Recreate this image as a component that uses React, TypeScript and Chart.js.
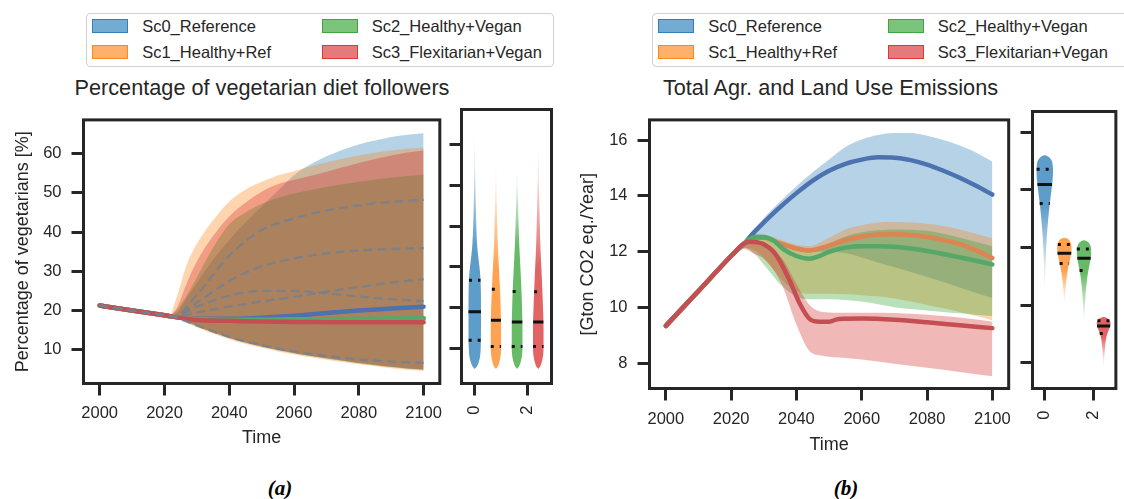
import React, { useEffect, useRef } from "react";
import { Chart, registerables } from "chart.js";

Chart.register(...registerables);

// ---------------- shared ----------------
const scenarioNames = ["Sc0_Reference", "Sc1_Healthy+Ref", "Sc2_Healthy+Vegan", "Sc3_Flexitarian+Vegan"];
const yearTicks = [2000, 2020, 2040, 2060, 2080, 2100];
const violinTicks = [0, 2];
const violinCenters = [0, 0.8, 1.6, 2.4];

// ---------------- (a) share of vegetarian diet followers [%] ----------------
const vegTicks = [10, 20, 30, 40, 50, 60];

const vegYears = [2000, 2010, 2020, 2023, 2030, 2040, 2050, 2060, 2070, 2080, 2090, 2100];
const vegMeanSc0 = [21.3, 20.0, 18.8, 18.4, 17.9, 17.9, 18.2, 18.7, 19.4, 20.0, 20.5, 21.0];
const vegMeanSc1 = [21.3, 20.0, 18.8, 18.4, 17.8, 17.6, 17.6, 17.7, 17.8, 17.8, 17.9, 17.9];
const vegMeanSc2 = [21.3, 20.0, 18.8, 18.4, 17.7, 17.6, 17.6, 17.7, 17.8, 17.9, 18.0, 18.1];
const vegMeanSc3 = [21.3, 20.0, 18.8, 18.4, 17.6, 17.4, 17.2, 17.1, 17.05, 17.0, 17.0, 17.0];

// individual runs (dashed)
const vegRun1 = [21.3, 20.0, 18.8, 18.5, 24.0, 34.0, 40.5, 43.5, 45.5, 46.8, 47.7, 48.2];
const vegRun2 = [21.3, 20.0, 18.8, 18.5, 22.0, 27.5, 31.3, 33.3, 34.6, 35.3, 35.7, 35.9];
const vegRun3 = [21.3, 20.0, 18.8, 18.4, 19.5, 21.0, 22.3, 23.5, 24.8, 26.0, 27.1, 28.0];
const vegRun4 = [21.3, 20.0, 18.8, 18.5, 21.0, 23.8, 25.0, 25.0, 24.4, 23.6, 22.9, 22.4];
const vegRun5 = [21.3, 20.0, 18.8, 18.3, 16.2, 13.3, 11.2, 9.6, 8.4, 7.6, 7.0, 6.7];

const vegBandYears = [2022, 2024, 2027, 2030, 2035, 2040, 2045, 2050, 2055, 2060, 2065, 2070, 2075, 2080, 2085, 2090, 2095, 2100];
const vegHighSc0 = [18.8, 19.6, 23.5, 27.0, 33.0, 38.0, 42.5, 46.5, 50.5, 54.5, 57.2, 59.3, 61.0, 62.3, 63.3, 64.2, 64.8, 65.2];
const vegHighSc1 = [19.0, 24.0, 32.0, 37.0, 43.0, 47.8, 50.8, 52.8, 54.4, 55.5, 56.7, 57.8, 58.7, 59.5, 60.2, 60.8, 61.2, 61.5];
const vegHighSc2 = [18.8, 20.3, 24.0, 28.5, 36.0, 42.0, 45.0, 47.2, 48.7, 49.8, 50.7, 51.5, 52.2, 52.8, 53.4, 53.9, 54.3, 54.6];
const vegHighSc3 = [18.8, 21.0, 27.2, 32.5, 39.0, 44.0, 47.5, 50.3, 52.2, 53.3, 54.3, 55.4, 56.5, 57.6, 58.6, 59.5, 60.3, 60.8];
const vegLowSc0 = [18.8, 18.2, 17.1, 16.0, 14.4, 13.0, 11.8, 10.8, 9.9, 9.1, 8.4, 7.8, 7.2, 6.6, 6.1, 5.6, 5.2, 4.9];
const vegLowSc1 = [18.8, 18.0, 16.9, 15.7, 14.1, 12.7, 11.5, 10.5, 9.6, 8.8, 8.1, 7.5, 6.9, 6.3, 5.8, 5.3, 4.9, 4.6];
const vegLowSc2 = [18.8, 18.2, 17.1, 16.0, 14.4, 13.0, 11.8, 10.8, 9.9, 9.1, 8.4, 7.8, 7.2, 6.6, 6.1, 5.6, 5.2, 4.9];
const vegLowSc3 = [18.8, 18.2, 17.2, 16.1, 14.5, 13.1, 11.9, 10.9, 10.0, 9.2, 8.5, 7.9, 7.3, 6.7, 6.2, 5.7, 5.3, 5.0];

// distribution in 2100: profile levels and half widths (x units), quartiles
const vegViolinLevelsSc0 = [65.2, 60, 55, 50, 45, 40, 35, 32, 29, 26, 20, 15, 10, 8, 6.5, 5.5, 5.0];
const vegViolinHalfSc0 = [0, 0.008, 0.015, 0.025, 0.04, 0.06, 0.094, 0.142, 0.195, 0.225, 0.236, 0.236, 0.225, 0.2, 0.142, 0.075, 0];
const vegViolinLevelsSc1 = [57, 50, 45, 40, 35, 30, 25, 20, 15, 10, 8, 6.5, 5.5, 5.0];
const vegViolinHalfSc1 = [0, 0.019, 0.034, 0.052, 0.075, 0.112, 0.15, 0.18, 0.195, 0.195, 0.172, 0.124, 0.067, 0];
const vegViolinLevelsSc2 = [55.4, 50, 45, 40, 35, 30, 25, 20, 15, 10, 8, 6.5, 5.5, 5.0];
const vegViolinHalfSc2 = [0, 0.019, 0.037, 0.06, 0.086, 0.124, 0.161, 0.187, 0.202, 0.202, 0.18, 0.127, 0.067, 0];
const vegViolinLevelsSc3 = [61.9, 55, 50, 45, 40, 35, 30, 25, 20, 15, 10, 8, 6.5, 5.5, 5.0];
const vegViolinHalfSc3 = [0, 0.015, 0.026, 0.041, 0.06, 0.082, 0.116, 0.15, 0.18, 0.199, 0.199, 0.176, 0.124, 0.067, 0];
const vegQuartilesSc0 = [12.0, 19.0, 26.7];
const vegQuartilesSc1 = [10.5, 16.9, 24.5];
const vegQuartilesSc2 = [10.5, 16.5, 24.0];
const vegQuartilesSc3 = [10.5, 16.5, 23.9];

// ---------------- (b) total agricultural and land-use emissions [Gt CO2 eq./yr] ----------------
const emiTicks = [8, 10, 12, 14, 16];

const emiYearsSc0 = [2000, 2010, 2020, 2024, 2027, 2030, 2035, 2040, 2045, 2050, 2055, 2060, 2065, 2070, 2075, 2080, 2085, 2090, 2095, 2100];
const emiMeanSc0 = [9.35, 10.6, 11.85, 12.3, 12.7, 13.05, 13.6, 14.1, 14.55, 14.9, 15.15, 15.3, 15.38, 15.37, 15.28, 15.12, 14.9, 14.65, 14.36, 14.05];
const emiYearsSc1 = [2000, 2010, 2020, 2024, 2027, 2030, 2035, 2040, 2044, 2048, 2052, 2056, 2060, 2065, 2070, 2075, 2080, 2085, 2090, 2095, 2100];
const emiMeanSc1 = [9.35, 10.6, 11.85, 12.3, 12.5, 12.5, 12.3, 12.12, 12.05, 12.15, 12.3, 12.45, 12.55, 12.62, 12.63, 12.6, 12.53, 12.42, 12.28, 12.05, 11.78];
const emiYearsSc2 = [2000, 2010, 2020, 2024, 2027, 2030, 2033, 2036, 2040, 2044, 2047, 2050, 2055, 2060, 2065, 2070, 2075, 2080, 2085, 2090, 2095, 2100];
const emiMeanSc2 = [9.35, 10.6, 11.85, 12.3, 12.52, 12.52, 12.4, 12.1, 11.85, 11.75, 11.85, 12.0, 12.15, 12.2, 12.2, 12.18, 12.12, 12.03, 11.92, 11.8, 11.68, 11.55];
const emiYearsSc3 = [2000, 2010, 2020, 2024, 2026, 2028, 2030, 2033, 2035, 2038, 2041, 2044, 2047, 2050, 2053, 2060, 2070, 2080, 2090, 2100];
const emiMeanSc3 = [9.35, 10.6, 11.85, 12.3, 12.36, 12.34, 12.27, 12.0, 11.65, 10.95, 10.15, 9.6, 9.5, 9.5, 9.6, 9.61, 9.57, 9.48, 9.37, 9.27];

const emiBandYearsSc0 = [2024, 2030, 2035, 2040, 2045, 2050, 2055, 2060, 2065, 2070, 2075, 2080, 2085, 2090, 2095, 2100];
const emiHighSc0 = [12.35, 13.2, 13.8, 14.35, 14.85, 15.3, 15.75, 16.02, 16.18, 16.25, 16.25, 16.15, 16.0, 15.8, 15.55, 15.22];
const emiLowSc0 = [12.25, 12.55, 12.35, 12.1, 12.0, 12.0, 11.95, 11.8, 11.62, 11.45, 11.28, 11.1, 10.92, 10.72, 10.53, 10.35];
const emiBandYearsSc1 = [2022, 2024, 2028, 2032, 2036, 2040, 2044, 2050, 2055, 2060, 2065, 2070, 2075, 2080, 2085, 2090, 2095, 2100];
const emiHighSc1 = [12.1, 12.32, 12.6, 12.55, 12.4, 12.25, 12.2, 12.5, 12.8, 12.95, 13.05, 13.07, 13.05, 13.0, 12.92, 12.8, 12.65, 12.48];
const emiLowSc1 = [12.0, 12.15, 12.0, 11.5, 10.95, 10.6, 10.5, 10.5, 10.48, 10.45, 10.4, 10.33, 10.22, 10.1, 9.98, 9.85, 9.7, 9.55];
const emiBandYearsSc2 = [2022, 2024, 2027, 2031, 2035, 2040, 2044, 2050, 2055, 2060, 2065, 2070, 2075, 2080, 2085, 2090, 2095, 2100];
const emiHighSc2 = [12.1, 12.32, 12.65, 12.6, 12.35, 12.1, 12.0, 12.3, 12.55, 12.7, 12.77, 12.8, 12.79, 12.75, 12.65, 12.5, 12.35, 12.2];
const emiLowSc2 = [12.0, 12.15, 11.95, 11.4, 10.85, 10.4, 10.3, 10.3, 10.28, 10.22, 10.12, 10.02, 9.95, 9.9, 9.85, 9.8, 9.75, 9.7];
const emiBandYearsSc3 = [2022, 2024, 2027, 2030, 2033, 2036, 2040, 2044, 2048, 2055, 2065, 2075, 2085, 2095, 2100];
const emiHighSc3 = [12.1, 12.3, 12.38, 12.3, 12.05, 11.7, 10.85, 10.1, 9.85, 9.82, 9.82, 9.78, 9.7, 9.58, 9.5];
const emiLowSc3 = [12.0, 12.1, 11.93, 11.75, 11.35, 10.7, 9.4, 8.45, 8.28, 8.2, 8.08, 7.92, 7.78, 7.62, 7.55];

const emiViolinLevelsSc0 = [15.21, 15.15, 15.05, 14.9, 14.6, 14.2, 13.8, 13.4, 13.0, 12.5, 12.0, 11.5, 11.0, 10.4];
const emiViolinHalfSc0 = [0, 0.15, 0.262, 0.319, 0.337, 0.3, 0.244, 0.187, 0.142, 0.094, 0.06, 0.037, 0.022, 0];
const emiViolinLevelsSc1 = [12.35, 12.3, 12.2, 12.0, 11.8, 11.5, 11.2, 10.9, 10.6, 10.3, 9.95];
const emiViolinHalfSc1 = [0, 0.15, 0.244, 0.292, 0.281, 0.206, 0.135, 0.086, 0.049, 0.026, 0];
const emiViolinLevelsSc2 = [12.26, 12.2, 12.1, 11.95, 11.7, 11.4, 11.1, 10.8, 10.5, 10.1, 9.7, 9.25];
const emiViolinHalfSc2 = [0, 0.15, 0.244, 0.292, 0.285, 0.225, 0.157, 0.112, 0.075, 0.045, 0.022, 0];
const emiViolinLevelsSc3 = [9.6, 9.55, 9.48, 9.38, 9.25, 9.1, 8.9, 8.6, 8.3, 8.0, 7.85];
const emiViolinHalfSc3 = [0, 0.15, 0.244, 0.281, 0.262, 0.187, 0.112, 0.067, 0.037, 0.015, 0];
const emiQuartilesSc0 = [13.53, 14.19, 14.72];
const emiQuartilesSc1 = [11.45, 11.8, 12.11];
const emiQuartilesSc2 = [11.2, 11.63, 11.95];
const emiQuartilesSc3 = [9.02, 9.28, 9.46];

// ---------------- styling ----------------
const INK = "#262626";
const SANS = "'Liberation Sans', Arial, Helvetica, sans-serif";
const SERIF = "'Liberation Serif', 'Times New Roman', serif";
const bandRGB = ["31,119,180", "255,127,14", "44,160,44", "214,39,40"];
const lineColors = ["#4c72b0", "#dd8452", "#55a868", "#c44e52"];
const BAND_ALPHA = 0.33;
const VIOLIN_ALPHA = 0.72;
const TICK_FONT = { size: 16.5, family: SANS };
const LABEL_FONT = { size: 18, family: SANS };

Chart.defaults.font.family = SANS;

const pts = (xs: number[], ys: number[]) => xs.map((x, i) => ({ x, y: ys[i] }));

// box around the plotting area (drawn over the data, like axis spines)
const framePlugin = {
  id: "frame",
  afterDatasetsDraw(chart: any) {
    const { ctx, chartArea: a } = chart;
    ctx.save();
    ctx.strokeStyle = INK;
    ctx.lineWidth = 3;
    ctx.strokeRect(a.left, a.top, a.right - a.left, a.bottom - a.top);
    ctx.restore();
  },
};

const tickGrid = {
  display: true,
  drawOnChartArea: false,
  drawTicks: true,
  tickLength: 12,
  tickWidth: 3,
  lineWidth: 3,
  color: INK,
  tickColor: INK,
};

function baseOptions(padTop: number, padRight: number, extra: any = {}) {
  return {
    responsive: false,
    animation: false,
    devicePixelRatio: 1,
    events: [],
    layout: { padding: { top: padTop, right: padRight, left: 0, bottom: 0 } },
    plugins: { legend: { display: false }, tooltip: { enabled: false }, title: { display: false } },
    elements: { point: { radius: 0 } },
    ...extra,
  };
}

interface Band { years: number[]; high: number[]; low: number[] }
interface Series { years: number[]; values: number[] }

function timeSeriesConfig(o: {
  bands: Band[]; means: Series[]; runs: Series[];
  yMin: number; yMax: number; yTicks: number[]; yTitle: string;
  yAxisW: number; xAxisH: number; padTop: number; padRight: number;
  yTitlePad: number; xTitlePad: number; xTickPad: number; yTickPad: number;
}) {
  const datasets: any[] = [];
  o.bands.forEach((b, k) => {
    const lowIndex = datasets.length;
    const order = 50 - k * 10;
    datasets.push({ data: pts(b.years, b.low), borderWidth: 0, pointRadius: 0, fill: false, order, cubicInterpolationMode: "monotone" });
    datasets.push({
      data: pts(b.years, b.high), borderWidth: 0, pointRadius: 0, fill: lowIndex, order,
      backgroundColor: `rgba(${bandRGB[k]},${BAND_ALPHA})`, cubicInterpolationMode: "monotone",
    });
  });
  o.means.forEach((m, k) => {
    datasets.push({
      data: pts(m.years, m.values), borderColor: lineColors[k], borderWidth: 4.5, pointRadius: 0, fill: false,
      order: 10 - k, cubicInterpolationMode: "monotone", borderCapStyle: "round", borderJoinStyle: "round",
    });
  });
  o.runs.forEach((r) => {
    datasets.push({
      data: pts(r.years, r.values), borderColor: "rgba(118,128,142,0.85)", borderWidth: 2.3, borderDash: [9, 5],
      pointRadius: 0, fill: false, order: 0, cubicInterpolationMode: "monotone",
    });
  });

  return {
    type: "line",
    data: { datasets },
    options: {
      ...baseOptions(o.padTop, o.padRight),
      scales: {
        x: {
          type: "linear", min: 1995, max: 2105,
          afterBuildTicks: (s: any) => { s.ticks = yearTicks.map((v) => ({ value: v })); },
          afterFit: (s: any) => { s.height = o.xAxisH; },
          grid: tickGrid, border: { display: false },
          ticks: { color: INK, font: TICK_FONT, padding: o.xTickPad, maxRotation: 0, autoSkip: false, callback: (v: any) => String(v) },
          title: { display: true, text: "Time", color: INK, font: LABEL_FONT, padding: { top: 0, bottom: o.xTitlePad } },
        },
        y: {
          type: "linear", min: o.yMin, max: o.yMax,
          afterBuildTicks: (s: any) => { s.ticks = o.yTicks.map((v) => ({ value: v })); },
          afterFit: (s: any) => { s.width = o.yAxisW; },
          grid: tickGrid, border: { display: false },
          ticks: { color: INK, font: TICK_FONT, padding: o.yTickPad, autoSkip: false, callback: (v: any) => String(v) },
          title: { display: true, text: o.yTitle, color: INK, font: LABEL_FONT, padding: { top: o.yTitlePad, bottom: 0 } },
        },
      },
    },
    plugins: [framePlugin],
  };
}

interface Violin { levels: number[]; half: number[]; quartiles: number[] }

function halfAt(levels: number[], half: number[], v: number) {
  for (let i = 0; i < levels.length - 1; i++) {
    const a = levels[i], b = levels[i + 1];
    if ((v <= a && v >= b) || (v >= a && v <= b)) {
      const t = (v - a) / (b - a || 1);
      return half[i] + t * (half[i + 1] - half[i]);
    }
  }
  return 0;
}

// fill that fades out along the thin tail of the violin
function violinFill(rgb: string, levels: number[], half: number[]) {
  let iMax = 0;
  half.forEach((h, i) => { if (h > half[iMax]) iMax = i; });
  const n = levels.length;
  const tailAtTop = levels[0] - levels[iMax] > levels[iMax] - levels[n - 1];
  const tailEnd = tailAtTop ? levels[0] : levels[n - 1];
  let solid = levels[iMax];
  if (tailAtTop) {
    for (let i = iMax; i >= 0; i--) if (half[i] < 0.6 * half[iMax]) { solid = levels[i]; break; }
  } else {
    for (let i = iMax; i < n; i++) if (half[i] < 0.6 * half[iMax]) { solid = levels[i]; break; }
  }
  const flat = `rgba(${rgb},${VIOLIN_ALPHA})`;
  return (ctx: any) => {
    const chart = ctx.chart;
    const ys = chart.scales && chart.scales.y;
    if (!chart.chartArea || !ys) return flat;
    const p0 = ys.getPixelForValue(tailEnd);
    const p1 = ys.getPixelForValue(solid);
    if (!isFinite(p0) || !isFinite(p1) || p0 === p1) return flat;
    const g = chart.ctx.createLinearGradient(0, p0, 0, p1);
    g.addColorStop(0, `rgba(${rgb},0)`);
    g.addColorStop(0.35, `rgba(${rgb},0.18)`);
    g.addColorStop(1, flat);
    return g;
  };
}

function violinConfig(o: {
  violins: Violin[]; yMin: number; yMax: number; yTicks: number[];
  yAxisW: number; xAxisH: number; padTop: number; padRight: number; xTickPad: number;
}) {
  const datasets: any[] = [];
  o.violins.forEach((v, k) => {
    const c = violinCenters[k];
    const leftIndex = datasets.length;
    datasets.push({
      data: pts(v.levels.map((_, i) => c - v.half[i]), v.levels), borderWidth: 0, pointRadius: 0, fill: false,
      order: 10, cubicInterpolationMode: "monotone",
    });
    datasets.push({
      data: pts(v.levels.map((_, i) => c + v.half[i]), v.levels), borderWidth: 0, pointRadius: 0, fill: leftIndex,
      order: 10, cubicInterpolationMode: "monotone", backgroundColor: violinFill(bandRGB[k], v.levels, v.half),
    });
    v.quartiles.forEach((q, j) => {
      const w = halfAt(v.levels, v.half, q);
      datasets.push({
        data: [{ x: c - w, y: q }, { x: c + w, y: q }],
        borderColor: "#111", borderWidth: 3, borderDash: j === 1 ? [] : [3, 6], borderCapStyle: "butt",
        pointRadius: 0, fill: false, order: 0, tension: 0,
      });
    });
  });

  return {
    type: "line",
    data: { datasets },
    options: {
      ...baseOptions(o.padTop, o.padRight, { indexAxis: "y" }),
      scales: {
        x: {
          type: "linear", position: "bottom", min: -0.5, max: 2.9,
          afterBuildTicks: (s: any) => { s.ticks = violinTicks.map((v) => ({ value: v })); },
          afterFit: (s: any) => { s.height = o.xAxisH; },
          grid: tickGrid, border: { display: false },
          ticks: { color: INK, font: TICK_FONT, padding: o.xTickPad, minRotation: 90, maxRotation: 90, autoSkip: false, callback: (v: any) => String(v) },
        },
        y: {
          type: "linear", position: "left", min: o.yMin, max: o.yMax,
          afterBuildTicks: (s: any) => { s.ticks = o.yTicks.map((v) => ({ value: v })); },
          afterFit: (s: any) => { s.width = o.yAxisW; },
          grid: tickGrid, border: { display: false },
          ticks: { display: false },
        },
      },
    },
    plugins: [framePlugin],
  };
}

// ---------------- assembled series ----------------
const vegBands: Band[] = [
  { years: vegBandYears, high: vegHighSc0, low: vegLowSc0 },
  { years: vegBandYears, high: vegHighSc1, low: vegLowSc1 },
  { years: vegBandYears, high: vegHighSc2, low: vegLowSc2 },
  { years: vegBandYears, high: vegHighSc3, low: vegLowSc3 },
];
const vegMeans: Series[] = [vegMeanSc0, vegMeanSc1, vegMeanSc2, vegMeanSc3].map((values) => ({ years: vegYears, values }));
const vegRuns: Series[] = [vegRun1, vegRun2, vegRun3, vegRun4, vegRun5].map((values) => ({ years: vegYears, values }));
const vegViolins: Violin[] = [
  { levels: vegViolinLevelsSc0, half: vegViolinHalfSc0, quartiles: vegQuartilesSc0 },
  { levels: vegViolinLevelsSc1, half: vegViolinHalfSc1, quartiles: vegQuartilesSc1 },
  { levels: vegViolinLevelsSc2, half: vegViolinHalfSc2, quartiles: vegQuartilesSc2 },
  { levels: vegViolinLevelsSc3, half: vegViolinHalfSc3, quartiles: vegQuartilesSc3 },
];

const emiBands: Band[] = [
  { years: emiBandYearsSc0, high: emiHighSc0, low: emiLowSc0 },
  { years: emiBandYearsSc1, high: emiHighSc1, low: emiLowSc1 },
  { years: emiBandYearsSc2, high: emiHighSc2, low: emiLowSc2 },
  { years: emiBandYearsSc3, high: emiHighSc3, low: emiLowSc3 },
];
const emiMeans: Series[] = [
  { years: emiYearsSc0, values: emiMeanSc0 },
  { years: emiYearsSc1, values: emiMeanSc1 },
  { years: emiYearsSc2, values: emiMeanSc2 },
  { years: emiYearsSc3, values: emiMeanSc3 },
];
const emiViolins: Violin[] = [
  { levels: emiViolinLevelsSc0, half: emiViolinHalfSc0, quartiles: emiQuartilesSc0 },
  { levels: emiViolinLevelsSc1, half: emiViolinHalfSc1, quartiles: emiQuartilesSc1 },
  { levels: emiViolinLevelsSc2, half: emiViolinHalfSc2, quartiles: emiQuartilesSc2 },
  { levels: emiViolinLevelsSc3, half: emiViolinHalfSc3, quartiles: emiQuartilesSc3 },
];

const VEG_Y = { min: 1.42, max: 68.58 };
const EMI_Y = { min: 7.11, max: 16.72 };

// ---------------- components ----------------
function ChartCanvas(props: { left: number; top: number; width: number; height: number; build: () => any }) {
  const ref = useRef<HTMLCanvasElement | null>(null);
  useEffect(() => {
    const chart = new Chart(ref.current as HTMLCanvasElement, props.build());
    return () => chart.destroy();
  }, []);
  const { left, top, width, height } = props;
  return (
    <canvas
      ref={ref}
      width={width}
      height={height}
      style={{ position: "absolute", left, top, width, height, display: "block" }}
    />
  );
}

function Legend(props: { left: number; top: number; width: number }) {
  const rowCenters = [12.8, 38.3];
  const patchX = [5.5, 235];
  const textX = [55.5, 285];
  return (
    <div
      style={{
        position: "absolute", left: props.left, top: props.top, width: props.width, height: 54,
        border: "1px solid #d0d0d0", borderRadius: 4, boxSizing: "border-box", background: "#fff",
      }}
    >
      {scenarioNames.map((name, i) => {
        const col = i < 2 ? 0 : 1;
        const row = i % 2;
        const cy = rowCenters[row];
        return (
          <React.Fragment key={name}>
            <div
              style={{
                position: "absolute", left: patchX[col], top: cy - 7, width: 36, height: 14, boxSizing: "border-box",
                background: `rgba(${bandRGB[i]},0.62)`, border: `1.3px solid rgba(${bandRGB[i]},0.8)`,
              }}
            />
            <div
              style={{
                position: "absolute", left: textX[col], top: cy - 10, height: 20, lineHeight: "20px",
                fontFamily: SANS, fontSize: 16.5, color: INK, whiteSpace: "nowrap",
              }}
            >
              {name}
            </div>
          </React.Fragment>
        );
      })}
    </div>
  );
}

function CenteredText(props: { text: string; cx: number; cy: number; style: any }) {
  return (
    <div
      style={{
        position: "absolute", left: props.cx - 300, top: props.cy - 15, width: 600, height: 30, lineHeight: "30px",
        textAlign: "center", whiteSpace: "nowrap", ...props.style,
      }}
    >
      {props.text}
    </div>
  );
}

export default function App() {
  const titleStyle = { fontFamily: SANS, fontSize: 21.7, color: INK };
  const captionStyle = { fontFamily: SERIF, fontSize: 21, fontWeight: "bold", fontStyle: "italic", color: "#000" };
  return (
    <div style={{ position: "absolute", left: 0, top: 0, width: 1124, height: 499, overflow: "hidden", background: "#fff" }}>
      <Legend left={85.7} top={12.7} width={468} />
      <Legend left={651.7} top={12.7} width={476} />
      <CenteredText text="Percentage of vegetarian diet followers" cx={262} cy={88.3} style={titleStyle} />
      <CenteredText text="Total Agr. and Land Use Emissions" cx={830.5} cy={88.3} style={titleStyle} />

      <ChartCanvas
        left={0} top={100} width={450} height={350}
        build={() =>
          timeSeriesConfig({
            bands: vegBands, means: vegMeans, runs: vegRuns,
            yMin: VEG_Y.min, yMax: VEG_Y.max, yTicks: vegTicks, yTitle: "Percentage of vegetarians [%]",
            yAxisW: 83.5, xAxisH: 66.5, padTop: 9.5, padRight: 9.5,
            yTitlePad: 12.5, xTitlePad: 1.2, xTickPad: 7.6, yTickPad: 10,
          })
        }
      />
      <ChartCanvas
        left={441} top={100} width={119} height={350}
        build={() =>
          violinConfig({
            violins: vegViolins, yMin: VEG_Y.min, yMax: VEG_Y.max, yTicks: vegTicks,
            yAxisW: 20.5, xAxisH: 66.5, padTop: 9.5, padRight: 8.5, xTickPad: 10,
          })
        }
      />

      <ChartCanvas
        left={560} top={100} width={460} height={356}
        build={() =>
          timeSeriesConfig({
            bands: emiBands, means: emiMeans, runs: [],
            yMin: EMI_Y.min, yMax: EMI_Y.max, yTicks: emiTicks, yTitle: "[Gton CO2 eq./Year]",
            yAxisW: 89.5, xAxisH: 67.5, padTop: 11.5, padRight: 8.5,
            yTitlePad: 17.5, xTitlePad: 0, xTickPad: 8.9, yTickPad: 10,
          })
        }
      />
      <ChartCanvas
        left={1012} top={100} width={112} height={356}
        build={() =>
          violinConfig({
            violins: emiViolins, yMin: EMI_Y.min, yMax: EMI_Y.max, yTicks: emiTicks,
            yAxisW: 20.5, xAxisH: 67.5, padTop: 11.5, padRight: 1.5, xTickPad: 10,
          })
        }
      />

      <CenteredText text="(a)" cx={280} cy={488} style={captionStyle} />
      <CenteredText text="(b)" cx={846} cy={488} style={captionStyle} />
    </div>
  );
}
